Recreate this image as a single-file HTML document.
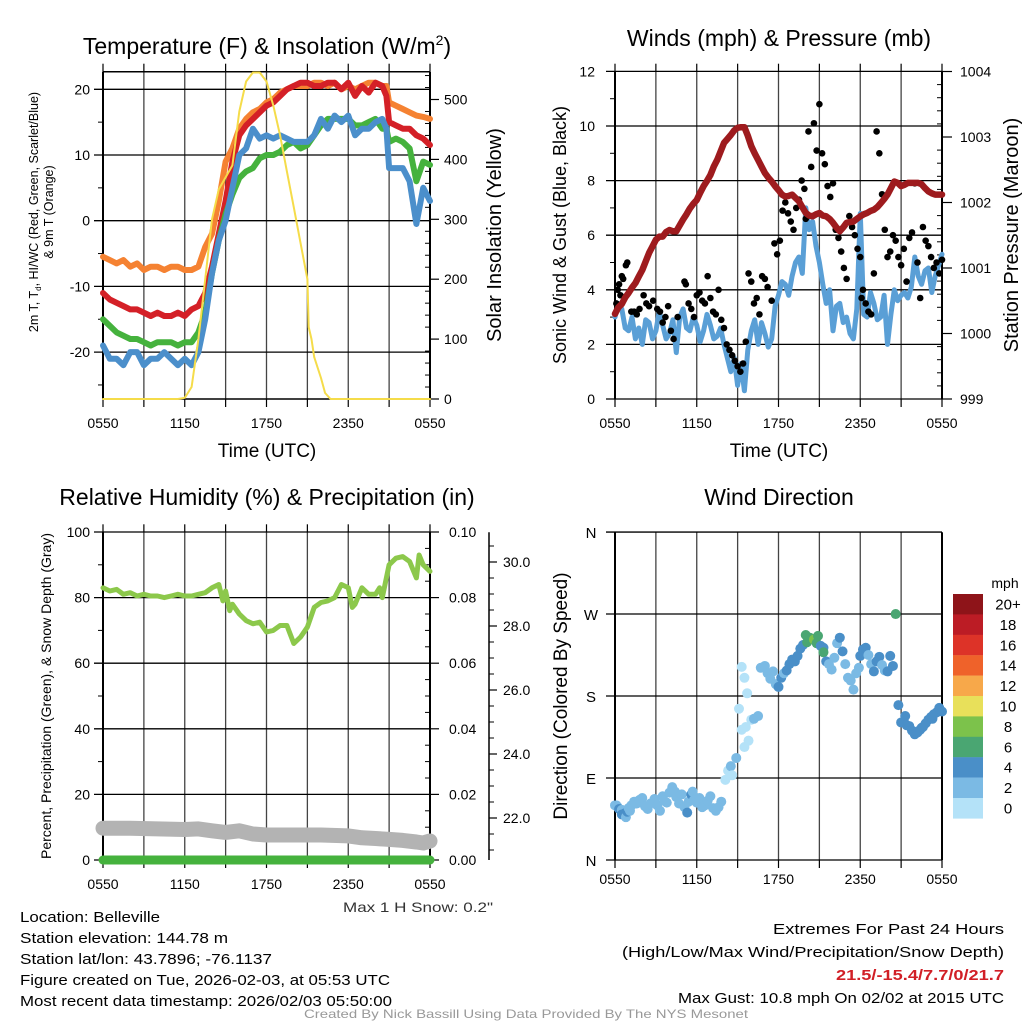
<!DOCTYPE html>
<html><head><meta charset="utf-8"><style>
html,body{margin:0;padding:0;background:#fff;}
svg{display:block;font-family:"Liberation Sans",sans-serif;}
</style></head><body>
<svg id="fig" xmlns="http://www.w3.org/2000/svg" width="1024" height="1024" viewBox="0 0 1024 1024">
<rect width="1024" height="1024" fill="#fff"/>
<text x="267" y="54" font-size="23" text-anchor="middle">Temperature (F) &amp; Insolation (W/m<tspan font-size="14" dy="-9">2</tspan><tspan dy="9">)</tspan></text>
<text x="779" y="46" font-size="23" text-anchor="middle">Winds (mph) &amp; Pressure (mb)</text>
<text x="267" y="505" font-size="23" text-anchor="middle">Relative Humidity (%) &amp; Precipitation (in)</text>
<text x="779" y="505" font-size="23" text-anchor="middle">Wind Direction</text>
<text x="267" y="457" font-size="19" text-anchor="middle">Time (UTC)</text>
<text x="779" y="457" font-size="19" text-anchor="middle">Time (UTC)</text>
<text transform="translate(38,212) rotate(-90)" font-size="12.5" text-anchor="middle">2m T, T<tspan font-size="8" dy="3">d</tspan><tspan dy="-3">, HI/WC (Red, Green, Scarlet/Blue)</tspan></text>
<text transform="translate(53,212) rotate(-90)" font-size="12.5" text-anchor="middle">&amp; 9m T (Orange)</text>
<text transform="translate(501,235) rotate(-90)" font-size="20" text-anchor="middle">Solar Insolation (Yellow)</text>
<text transform="translate(566,235) rotate(-90)" font-size="18" text-anchor="middle">Sonic Wind &amp; Gust (Blue, Black)</text>
<text transform="translate(1018,235) rotate(-90)" font-size="20" text-anchor="middle">Station Pressure (Maroon)</text>
<text transform="translate(51,696) rotate(-90)" font-size="14" text-anchor="middle">Percent, Precipitation (Green), &amp; Snow Depth (Gray)</text>
<text transform="translate(567,696) rotate(-90)" font-size="19" text-anchor="middle">Direction (Colored By Speed)</text>
<g font-size="15">
<text x="20" y="922" textLength="140" lengthAdjust="spacingAndGlyphs">Location: Belleville</text>
<text x="20" y="943" textLength="208" lengthAdjust="spacingAndGlyphs">Station elevation: 144.78 m</text>
<text x="20" y="964" textLength="252" lengthAdjust="spacingAndGlyphs">Station lat/lon: 43.7896; -76.1137</text>
<text x="20" y="985" textLength="370" lengthAdjust="spacingAndGlyphs">Figure created on Tue, 2026-02-03, at 05:53 UTC</text>
<text x="20" y="1006" textLength="372" lengthAdjust="spacingAndGlyphs">Most recent data timestamp: 2026/02/03 05:50:00</text>
</g>
<text x="343" y="912" font-size="14" textLength="150" lengthAdjust="spacingAndGlyphs" fill="#333">Max 1 H Snow: 0.2"</text>
<g font-size="15" text-anchor="end">
<text x="1004" y="934" textLength="231" lengthAdjust="spacingAndGlyphs">Extremes For Past 24 Hours</text>
<text x="1004" y="957" textLength="382" lengthAdjust="spacingAndGlyphs">(High/Low/Max Wind/Precipitation/Snow Depth)</text>
<text x="1004" y="980" fill="#d11f26" font-weight="bold" textLength="168" lengthAdjust="spacingAndGlyphs">21.5/-15.4/7.7/0/21.7</text>
<text x="1004" y="1003" textLength="326" lengthAdjust="spacingAndGlyphs">Max Gust: 10.8 mph On 02/02 at 2015 UTC</text>
</g>
<text x="526" y="1018" font-size="12" fill="#999" text-anchor="middle" textLength="444" lengthAdjust="spacingAndGlyphs">Created By Nick Bassill Using Data Provided By The NYS Mesonet</text>
</svg>
<script>
const timeLabels = ["0550","1150","1750","2350","0550"];
const tT = [0,0.5,1,1.5,2,2.5,3,3.5,4,4.5,5,5.5,6,6.5,7,7.5,8,8.5,9,9.5,10,10.5,11,11.5,12,12.5,13,13.5,14,14.5,15,15.5,16,16.5,17,17.5,18,18.5,19,19.5,20,20.5,20.8,21,21.5,22,22.5,23,23.5,24];
const tempRed = [-11,-12,-12.5,-13,-13.5,-13.5,-14,-14.5,-14,-14.5,-14.5,-14,-14.5,-13.5,-13,-11,-7,-2,3,9,13,14.5,15.5,16.5,17.5,18,19,20,20.5,21,21,20.5,20.5,21,21,20,21,19,20.5,19.5,21,20.5,19,15,14.5,14,14,13,12.5,11.5];
const temp9m = [-5.5,-6,-6.5,-6,-7,-6.5,-7.5,-7,-7,-7.5,-7,-7,-7.5,-7.5,-7,-4,-2,3,9,11,14,15.5,16.5,17,18,18.5,19.5,20,20.5,20.5,20.5,21,21,20.5,21,20,20.5,20,20.5,21,21,20.5,20.5,18,17.5,17,16.5,16,15.8,15.5];
const tempDew = [-15,-16,-17,-17.5,-18,-18,-18.5,-19,-18.5,-18.5,-18.5,-19,-18.5,-18.5,-17,-14,-8,-3,1,4,6.5,7.5,8,9.5,10,10,10.5,11.5,12,11,11.5,13,14.5,15.5,15.5,15.5,15.5,14.5,14.5,15,15.5,14,14,12,12.5,12,11,6,9,8.5];
const tempWC = [-19,-21,-21,-22,-20,-20,-22,-21,-21,-20,-21,-22,-21,-22,-20,-15,-8,-3,0,5,10,11,14,12.5,13,12.5,13,12.5,12,12,12,13,15.5,14,16,15,16,13,14,14,15,15.5,14,8,8,8,6,-0.5,5,3];
const tSol = [0,2,4,5.5,6,6.5,7,7.5,8,8.5,9,9.5,10,10.5,11,11.5,12,12.5,13,13.5,14,14.5,15,15.1,15.3,15.5,16,16.3,16.7,18,20,22,24];
const solar = [0,0,0,0,2,20,100,200,300,350,370,390,480,530,545,545,530,490,440,380,320,260,200,120,100,70,35,10,0,0,0,0,0];
const tW = [0,0.25,0.5,0.75,1,1.25,1.5,1.75,2,2.25,2.5,2.75,3,3.25,3.5,3.75,4,4.25,4.5,4.75,5,5.25,5.5,5.75,6,6.25,6.5,6.75,7,7.25,7.5,7.75,8,8.25,8.5,8.75,9,9.25,9.5,9.75,10,10.25,10.5,10.75,11,11.25,11.5,11.75,12,12.25,12.5,12.75,13,13.25,13.5,13.75,14,14.25,14.5,14.75,15,15.25,15.5,15.75,16,16.25,16.5,16.75,17,17.25,17.5,17.75,18,18.25,18.5,18.75,19,19.25,19.5,19.75,20,20.25,20.5,20.75,21,21.25,21.5,21.75,22,22.25,22.5,22.75,23,23.25,23.5,23.75,24];
const windSpd = [3,3.5,3.3,2.6,2.5,3.0,2.2,2.6,2.0,2.9,2.8,2.2,2.5,3.2,2.7,2.2,2.4,2.9,1.7,3.0,3.3,2.6,2.5,3.0,2.7,2.1,2.5,3.1,2.7,2.2,2.3,2.6,2.0,1.5,1.0,1.5,0.5,1.3,0.3,1.8,2.5,2.9,2.0,2.8,2.4,1.9,2.2,3.4,3.8,4.3,4.2,3.8,4.5,5.0,5.2,4.6,7.0,6.2,6.5,5.6,5.0,4.2,3.5,4.0,2.5,3.4,3.5,2.8,3.0,2.4,2.2,3.3,6.8,3.1,3.0,3.9,3.5,2.9,3.0,3.8,2.0,3.1,4.0,3.6,3.8,3.9,3.7,4.1,5.2,4.5,4.2,4.7,4.8,3.9,4.5,4.9,5.3];
const pressure = [1000.3,1000.4,1000.45,1000.55,1000.62,1000.7,1000.77,1000.87,1000.97,1001.1,1001.23,1001.33,1001.43,1001.48,1001.48,1001.55,1001.58,1001.56,1001.56,1001.65,1001.74,1001.82,1001.91,1001.98,1002.04,1002.15,1002.25,1002.33,1002.42,1002.55,1002.65,1002.78,1002.91,1002.97,1003.03,1003.1,1003.14,1003.15,1003.15,1003.02,1002.86,1002.75,1002.65,1002.55,1002.45,1002.38,1002.32,1002.25,1002.19,1002.12,1002.09,1002.1,1002.12,1002.07,1002.02,1001.93,1001.84,1001.8,1001.79,1001.82,1001.84,1001.8,1001.79,1001.75,1001.69,1001.62,1001.56,1001.62,1001.69,1001.7,1001.71,1001.75,1001.79,1001.82,1001.84,1001.87,1001.89,1001.93,1001.99,1002.05,1002.12,1002.22,1002.32,1002.3,1002.25,1002.27,1002.3,1002.3,1002.3,1002.3,1002.28,1002.22,1002.17,1002.14,1002.12,1002.12,1002.12];
const gustT = [0.1,0.2,0.3,0.4,0.5,0.6,0.7,0.8,0.9,1.2,1.4,1.6,1.8,2.1,2.3,2.5,2.8,3.1,3.3,3.5,3.7,3.9,4.1,4.3,4.6,5.1,5.2,5.4,5.6,5.8,6.0,6.2,6.4,6.6,6.8,7.0,7.2,7.4,7.6,7.8,8.0,8.2,8.4,8.6,8.8,9.0,9.2,9.4,9.6,9.8,10.0,10.2,10.4,10.6,10.8,11.0,11.2,11.5,11.7,11.9,12.1,12.3,12.5,12.7,12.9,13.1,13.3,13.5,13.7,13.9,14.0,14.2,14.4,14.6,14.8,15.0,15.2,15.4,15.6,15.8,16.0,16.2,16.4,16.6,16.8,17.0,17.2,17.4,17.6,17.8,18.0,18.1,18.2,18.4,18.6,18.8,19.0,19.2,19.4,19.6,19.8,20.0,20.2,20.4,20.6,20.8,21.0,21.2,21.4,21.6,21.8,22.0,22.2,22.4,22.6,22.8,23.0,23.2,23.4,23.6,23.8,24.0];
const gustV = [3.5,4.0,4.2,3.8,4.5,4.4,3.7,4.9,5.0,3.2,3.2,3.1,3.3,3.8,3.5,3.4,3.6,3.3,3.2,2.8,3.0,3.4,2.5,2.2,3.0,4.3,4.2,3.5,3.3,3.0,3.8,3.9,3.6,3.5,4.5,3.7,3.2,3.1,4.0,2.9,2.6,2.0,1.8,1.6,1.4,1.2,1.0,1.3,2.1,4.6,4.3,3.5,3.7,3.1,4.5,4.4,4.1,3.6,5.7,5.3,5.8,6.9,7.2,6.8,6.5,6.2,7.0,7.3,8.0,7.7,6.6,9.8,8.5,10.1,9.1,10.8,9.0,8.6,7.8,7.4,7.9,6.2,5.9,5.4,4.8,4.4,6.7,6.3,6.0,5.5,5.2,3.7,4.0,3.5,3.2,3.1,4.6,9.8,9.0,7.5,6.2,5.2,5.4,6.0,5.8,5.2,4.9,5.5,4.3,5.9,6.1,7.9,5.0,3.7,6.3,5.8,5.6,5.2,4.8,5.0,4.6,5.1,6.8,7.4,6.5,6.0,7.2,8.6];
const tR = [0,0.5,1,1.5,2,2.5,3,3.5,4,4.5,5,5.5,6,6.5,7,7.5,8,8.5,8.8,9,9.3,9.5,10,10.5,11,11.5,12,12.5,13,13.5,14,14.5,15,15.5,16,16.5,17,17.5,18,18.3,18.5,19,19.5,20,20.3,20.5,21,21.5,22,22.5,23,23.2,23.5,24];
const rh = [83,82,82.5,81,81.5,80.5,81,80.5,80.5,80,80.5,81,80.5,80.5,81,81.5,83,84,79,82,76,78,75,73,72,72.5,69.5,70,71.5,71.5,66,68,71,77,78.5,79,80,84,83,77,78,83,81,81,83,80,90,92,92.5,91,86,93,90,88];
const tSnow = [0,2,4,6,7,8,9,10,11,12,14,16,18,19,20,21,22,23,23.5,24];
const snow = [21.68,21.68,21.66,21.64,21.66,21.6,21.55,21.6,21.5,21.47,21.47,21.47,21.44,21.38,21.36,21.33,21.3,21.25,21.22,21.28];
const tPrecip = [0,24];
const precip = [0,0];
const dirT = [0,0.1,0.2,0.3,0.5,0.5,0.7,0.8,0.9,1.0,1.1,1.2,1.4,1.6,1.8,2.0,2.2,2.4,2.6,2.9,3.1,3.3,3.5,3.6,3.8,4.0,4.2,4.4,4.5,4.7,4.9,5.1,5.3,5.4,5.6,5.7,5.8,6.0,6.2,6.4,6.6,6.8,7.0,7.2,7.4,7.6,7.8,8.1,8.3,8.5,8.6,8.9,9.1,9.3,9.3,9.5,9.5,9.6,9.7,9.8,10.0,10.2,10.5,10.7,11.0,11.2,11.4,11.6,11.8,12.0,12.2,12.4,12.6,12.8,13.0,13.2,13.4,13.6,13.8,14.0,14.1,14.3,14.6,14.8,14.9,15.1,15.3,15.3,15.5,15.7,15.9,16.1,16.3,16.5,16.7,16.9,17.1,17.3,17.5,17.7,17.9,18.0,18.2,18.4,18.6,18.8,19.0,19.2,19.4,19.6,19.8,20.0,20.2,20.4,20.6,20.8,21.0,21.2,21.3,21.4,21.6,21.8,21.9,22.0,22.2,22.4,22.5,22.6,22.8,23.0,23.2,23.3,23.4,23.6,23.8,24.0];
const dirD = [60,60,58,56,55,50,51,47,53,57,54,60,64,62,66,68,59,56,62,67,60,54,70,65,63,74,80,75,69,62,72,58,52,64,72,75,66,63,68,58,60,65,70,57,54,58,64,88,98,103,93,112,166,143,212,124,200,146,183,131,154,155,158,211,213,205,199,207,193,190,200,205,208,215,220,218,224,232,236,247,239,244,242,238,246,235,233,228,218,215,209,222,238,244,229,215,200,197,187,205,211,224,231,233,225,215,207,218,223,214,208,207,224,213,270,170,151,152,158,148,147,142,141,138,140,143,145,146,150,154,157,155,160,162,167,163];
const dirS = [3,3,3,5,3,5,5,3,5,3,3,3,3,3,3,3,3,3,3,3,3,3,3,3,3,3,3,3,3,3,3,3,5,3,5,3,3,3,3,3,3,3,3,3,3,3,3,1,1,3,1,3,1,1,1,1,1,1,1,1,1,3,3,3,3,3,3,3,3,5,5,3,5,5,5,5,5,5,5,7,7,7,9,7,7,5,5,7,5,3,3,3,3,5,5,3,3,3,3,3,3,5,5,5,3,3,5,5,5,3,3,5,5,5,7,5,5,5,5,5,5,5,5,5,5,5,5,5,5,5,5,5,5,5,5,5];
const cbLabels = ["20+","18","16","14","12","10","8","6","4","2","0"];
const cbColors = ["#8e1419","#bc1c25","#dd3328","#ef622a","#f7a84a","#e8e05a","#7cc24b","#4aa672","#4a8fc8","#7bbae4","#b4e2f8"];

const NS="http://www.w3.org/2000/svg";
const svg=document.getElementById('fig');
const xL=t=>103+t*13.625, xR=t=>615+t*13.625;
const yTemp=v=>220.7-v*6.57, ySol=v=>399-v*0.599;
const yWind=v=>399-v*27.3, yP=p=>399-(p-999)*65.5;
const yRH=v=>860-v*3.28, yPr=v=>860-v*3280, ySnow=v=>818-(v-22)*32;
const yDir=d=>860-d*0.911;
function mk(tag,attrs,name,parent){
  const el=document.createElementNS(NS,tag);
  for(const k in attrs) el.setAttribute(k,attrs[k]);
  
  
  (parent||svg).appendChild(el);
  return el;
}
function txt(x,y,s,size,anchor,name){
  const el=mk('text',{x:x,y:y,'font-size':size,'text-anchor':anchor},name);
  el.textContent=s; return el;
}
function line(x1,y1,x2,y2,w,c,name){return mk('line',{x1:x1,y1:y1,x2:x2,y2:y2,stroke:c,'stroke-width':w},name);}
function path(ts,vs,xf,yf,w,c,name){
  let d='';
  for(let i=0;i<ts.length;i++) d+=(i?'L':'M')+xf(ts[i]).toFixed(1)+' '+yf(vs[i]).toFixed(1);
  return mk('path',{d:d,fill:'none',stroke:c,'stroke-width':w,'stroke-linejoin':'round','stroke-linecap':'round'},name);
}
function frame(x0,top,bot,name,topTicks){
  for(let i=0;i<=8;i++){
    const x=x0+i*40.875;
    line(x,top,x,bot,(i==0||i==8)?2:1.3,(i==0||i==8)?'#000':'#444',name+'-vgrid');
    line(x,bot,x,bot+8,1.2,'#000',name+'-x-tick');
    if(topTicks) line(x,top-8,x,top,1.2,'#000',name+'-top-tick');
  }
  for(let i=0;i<5;i++) txt(x0+i*81.75,bot+29-((name=='dir')?5:0),timeLabels[i],14,'middle',name+'-x-tick-label');
}

frame(103,71.7,399,'temp',true);
line(103,71.7,430,71.7,1.5,'#000','temp-top-border');
line(103,399,430,399,1.5,'#000','temp-bottom-border');
[20,10,0,-10,-20].forEach(v=>{line(94,yTemp(v),430,yTemp(v),1.3,'#000','temp-hgrid');txt(90,yTemp(v)+5,String(v),14,'end','temp-y-tick-label');});
[-25,-15,-5,5,15].forEach(v=>line(98,yTemp(v),103,yTemp(v),1,'#000','temp-minor-tick'));
[0,100,200,300,400,500].forEach(v=>{line(430,ySol(v),439,ySol(v),1.2,'#000','solar-tick');txt(444,ySol(v)+5,String(v),14,'start','solar-tick-label');});
for(let v=20;v<546;v+=20) if(v%100) line(425,ySol(v),430,ySol(v),1,'#000','solar-minor-tick');
path(tT,temp9m,xL,yTemp,6,'#f58232','temp-9m-line');
path(tT,tempRed,xL,yTemp,6,'#d42027','temp-2m-line');
path(tT,tempDew,xL,yTemp,6,'#45b23d','dewpoint-line');
path(tT,tempWC,xL,yTemp,6,'#4b8fcb','windchill-line');
path(tSol,solar,xL,ySol,2,'#f5dc4a','solar-line');

frame(615,71.7,399,'wind',true);
[12,10,8,6,4,2,0].forEach(v=>{line(606,yWind(v),942,yWind(v),1.3,'#000','wind-hgrid');txt(595,yWind(v)+5,String(v),14,'end','wind-y-tick-label');});
[11,9,7,5,3,1].forEach(v=>line(610,yWind(v),615,yWind(v),1,'#000','wind-minor-tick'));
[999,1000,1001,1002,1003,1004].forEach(p=>{line(942,yP(p),952,yP(p),1.2,'#000','pressure-tick');txt(960,yP(p)+5,String(p),14,'start','pressure-tick-label');});
for(let p=999.2;p<1004;p+=0.2) if(Math.abs(p-Math.round(p))>0.05) line(937,yP(p),942,yP(p),1,'#000','pressure-minor-tick');
path(tW,windSpd,xR,yWind,5,'#5a9fd6','wind-speed-line');
for(let i=0;i<gustT.length;i++) mk('circle',{cx:xR(gustT[i]),cy:yWind(gustV[i]),r:3.3,fill:'#000'},'gust-point');
path(tW,pressure,xR,yP,6.5,'#9e1b1e','pressure-line');

frame(103,532.3,860,'rh',true);
[100,80,60,40,20,0].forEach(v=>{line(94,yRH(v),430,yRH(v),1.3,'#000','rh-hgrid');txt(90,yRH(v)+5,String(v),14,'end','rh-y-tick-label');});
[90,70,50,30,10].forEach(v=>line(98,yRH(v),103,yRH(v),1,'#000','rh-minor-tick'));
[0,0.02,0.04,0.06,0.08,0.10].forEach(v=>{line(430,yPr(v),439,yPr(v),1.2,'#000','precip-tick');txt(449,yPr(v)+5,v.toFixed(2),14,'start','precip-tick-label');});
for(let k=1;k<20;k++) if(k%4) line(425,yPr(k*0.005),430,yPr(k*0.005),1,'#000','precip-minor-tick');
line(489,532.3,489,860,1.5,'#000','snow-axis-line');
[22,24,26,28,30].forEach(v=>{line(489,ySnow(v),497,ySnow(v),1.2,'#000','snow-tick');txt(503,ySnow(v)+5,v.toFixed(1),14,'start','snow-tick-label');});
for(let v=21;v<31;v+=0.5) if(v%2) line(489,ySnow(v),494,ySnow(v),1,'#000','snow-minor-tick');
path(tSnow,snow,xL,ySnow,15,'#b3b3b3','snow-depth-line');
path(tPrecip,precip,xL,yPr,9,'#45b23d','precip-line');
path(tR,rh,xL,yRH,5,'#8cc84b','rh-line');

frame(615,532.3,860,'dir',false);
const dLab=['N','E','S','W','N'];
[0,90,180,270,360].forEach((d,i)=>{line(606,yDir(d),942,yDir(d),1.3,'#000','dir-hgrid');txt(591,yDir(d)+6,dLab[i],15,'middle','dir-y-tick-label');});
function spdColor(s){const idx=Math.min(10,Math.floor(s/2));return cbColors[10-idx];}
for(let i=0;i<dirT.length;i++) mk('circle',{cx:xR(dirT[i]),cy:yDir(dirD[i]),r:5,fill:spdColor(dirS[i])},'direction-point');
txt(1005,588,'mph',14,'middle','colorbar-title');
for(let i=0;i<11;i++){
  mk('rect',{x:953,y:594+i*20.4,width:30,height:20.6,fill:cbColors[i]},'colorbar-box');
  txt(1008,594+i*20.4+15.5,cbLabels[i],15,'middle','colorbar-label');
}
</script>
</body></html>
